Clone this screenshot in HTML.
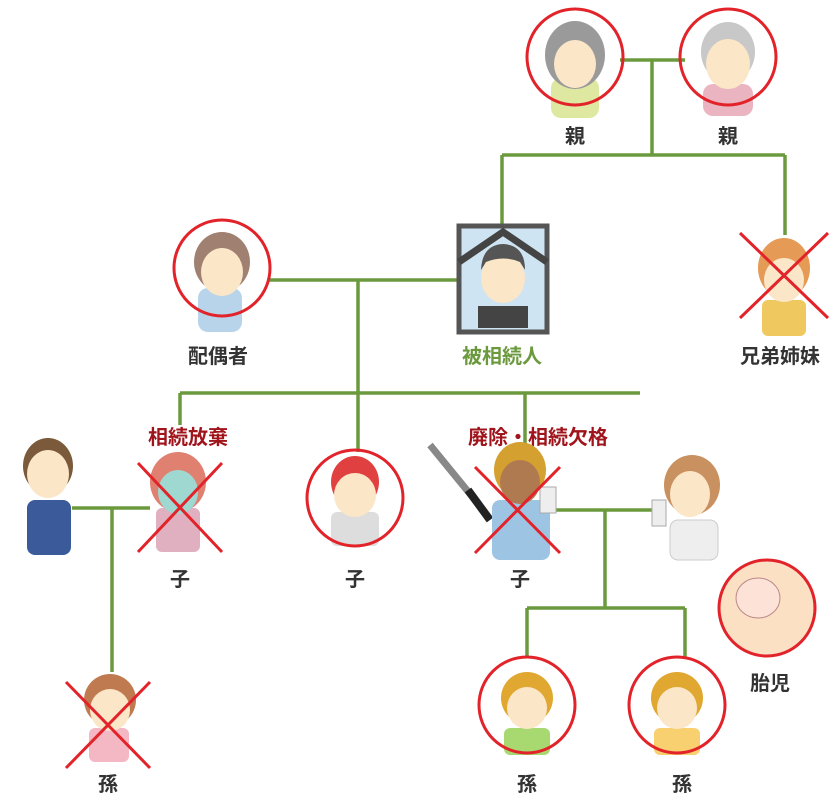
<!DOCTYPE html>
<html><head><meta charset="utf-8"><style>
html,body{margin:0;padding:0;background:#fff;width:840px;height:800px;overflow:hidden}
text{font-family:"Liberation Sans","Noto Sans CJK JP",sans-serif;font-weight:bold;font-size:20px;text-anchor:middle}
</style></head><body>
<svg width="840" height="800" viewBox="0 0 840 800" xmlns="http://www.w3.org/2000/svg">
<g stroke="#6b9a3e" stroke-width="3.5" fill="none">
<path d="M620 60H685M652 60V155M502 155H785M502 155V225M785 155V235"/>
<path d="M268 280H458M358 280V393M180 393H640M180 393V425M358 393V452M525 393V455"/>
<path d="M72 508H150M112 508V672"/>
<path d="M555 510H655M605 510V608M527 608H685M527 608V658M685 608V658"/>
</g>
<!-- parents -->
<g>
<rect x="551" y="78" width="48" height="40" rx="10" fill="#dfe8a0"/>
<ellipse cx="575" cy="55" rx="30" ry="34" fill="#9a9a9a"/>
<ellipse cx="575" cy="64" rx="21" ry="24" fill="#fbe6c8"/>
<rect x="703" y="84" width="50" height="32" rx="10" fill="#eab4c0"/>
<ellipse cx="728" cy="52" rx="27" ry="30" fill="#c8c8c8"/>
<ellipse cx="728" cy="64" rx="22" ry="25" fill="#fbe6c8"/>
</g>
<circle cx="575" cy="57" r="48" fill="none" stroke="#e2232a" stroke-width="3"/>
<circle cx="728" cy="57" r="48" fill="none" stroke="#e2232a" stroke-width="3"/>
<text x="575" y="143" fill="#333">親</text>
<text x="728" y="143" fill="#333">親</text>
<!-- deceased frame -->
<rect x="459" y="226" width="88" height="106" fill="#cfe4f2" stroke="#555" stroke-width="5"/>
<rect x="478" y="306" width="50" height="22" fill="#444"/>
<ellipse cx="503" cy="278" rx="22" ry="25" fill="#fbe6c8"/>
<path d="M481 270Q482 245 503 244Q525 245 525 270L520 262Q503 255 486 262Z" fill="#555"/>
<path d="M459 262L503 232L547 262" fill="none" stroke="#444" stroke-width="7"/>
<text x="502" y="363" fill="#6b9a3e">被相続人</text>
<!-- spouse -->
<rect x="198" y="288" width="44" height="44" rx="10" fill="#b8d4ea"/>
<ellipse cx="222" cy="262" rx="28" ry="30" fill="#a08070"/>
<ellipse cx="222" cy="272" rx="21" ry="24" fill="#fbe6c8"/>
<circle cx="222" cy="268" r="48" fill="none" stroke="#e2232a" stroke-width="3"/>
<text x="218" y="363" fill="#333">配偶者</text>
<!-- sibling -->
<rect x="762" y="300" width="44" height="36" rx="6" fill="#f0c860"/>
<ellipse cx="784" cy="268" rx="26" ry="30" fill="#e59a55"/>
<ellipse cx="784" cy="280" rx="20" ry="22" fill="#fbe6c8"/>
<path d="M740 233L828 318M828 233L740 318" stroke="#e2232a" stroke-width="3"/>
<text x="780" y="363" fill="#333">兄弟姉妹</text>
<!-- labels red -->
<text x="188" y="444" fill="#a0141c">相続放棄</text>
<text x="538" y="444" fill="#a0141c">廃除・相続欠格</text>
<!-- man left -->
<rect x="27" y="500" width="44" height="55" rx="8" fill="#3a5a9a"/>
<ellipse cx="48" cy="466" rx="25" ry="28" fill="#7a5a3a"/>
<ellipse cx="48" cy="474" rx="21" ry="24" fill="#fbe6c8"/>
<!-- child1 -->
<rect x="156" y="508" width="44" height="44" rx="6" fill="#e0b0c0"/>
<ellipse cx="178" cy="482" rx="28" ry="30" fill="#e08070"/>
<ellipse cx="178" cy="492" rx="20" ry="22" fill="#9fd8d0"/>
<path d="M138 463L222 552M222 463L138 552" stroke="#e2232a" stroke-width="3"/>
<text x="180" y="586" fill="#333">子</text>
<!-- child2 -->
<rect x="331" y="512" width="48" height="34" rx="6" fill="#ddd"/>
<ellipse cx="355" cy="482" rx="24" ry="26" fill="#e04040"/>
<ellipse cx="355" cy="495" rx="21" ry="22" fill="#fbe6c8"/>
<circle cx="355" cy="498" r="48" fill="none" stroke="#e2232a" stroke-width="3"/>
<text x="355" y="586" fill="#333">子</text>
<!-- child3 -->
<path d="M430 445L475 500L484 512" stroke="#888" stroke-width="7" fill="none"/>
<path d="M468 490L490 520" stroke="#222" stroke-width="8"/>
<rect x="492" y="500" width="58" height="60" rx="8" fill="#9ec4e4"/>
<ellipse cx="520" cy="470" rx="26" ry="28" fill="#d4a030"/>
<ellipse cx="520" cy="482" rx="20" ry="22" fill="#b07a50"/>
<rect x="540" y="487" width="16" height="26" fill="#eee" stroke="#aaa"/>
<path d="M475 467L560 553M560 467L475 553" stroke="#e2232a" stroke-width="3"/>
<text x="520" y="586" fill="#333">子</text>
<!-- wife -->
<rect x="670" y="520" width="48" height="40" rx="8" fill="#eee" stroke="#ccc"/>
<ellipse cx="692" cy="485" rx="28" ry="30" fill="#c99060"/>
<ellipse cx="690" cy="494" rx="20" ry="23" fill="#fbe6c8"/>
<rect x="652" y="500" width="14" height="26" fill="#eee" stroke="#aaa"/>
<!-- fetus -->
<circle cx="767" cy="608" r="48" fill="#fbe0c4" stroke="#e2232a" stroke-width="3"/>
<ellipse cx="758" cy="598" rx="22" ry="20" fill="#fde2d8" stroke="#b88" stroke-width="1"/>
<text x="770" y="690" fill="#333">胎児</text>
<!-- grandchildren -->
<rect x="89" y="728" width="40" height="34" rx="6" fill="#f3b8c4"/>
<ellipse cx="110" cy="700" rx="26" ry="26" fill="#c07a50"/>
<ellipse cx="110" cy="710" rx="20" ry="21" fill="#fbe6c8"/>
<path d="M66 682L150 768M150 682L66 768" stroke="#e2232a" stroke-width="3"/>
<text x="108" y="791" fill="#333">孫</text>
<rect x="504" y="728" width="46" height="27" rx="6" fill="#a8d870"/>
<ellipse cx="527" cy="698" rx="26" ry="26" fill="#e0a830"/>
<ellipse cx="527" cy="708" rx="20" ry="21" fill="#fbe6c8"/>
<circle cx="527" cy="705" r="48" fill="none" stroke="#e2232a" stroke-width="3"/>
<text x="527" y="791" fill="#333">孫</text>
<rect x="654" y="728" width="46" height="27" rx="6" fill="#f8d070"/>
<ellipse cx="677" cy="698" rx="26" ry="26" fill="#e0a830"/>
<ellipse cx="677" cy="708" rx="20" ry="21" fill="#fbe6c8"/>
<circle cx="677" cy="705" r="48" fill="none" stroke="#e2232a" stroke-width="3"/>
<text x="682" y="791" fill="#333">孫</text>
</svg>
</body></html>
